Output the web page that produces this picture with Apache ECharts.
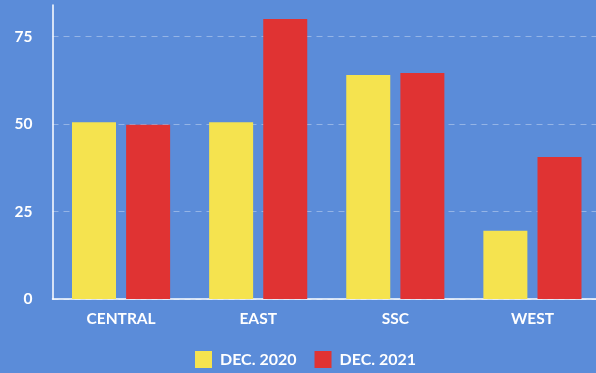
<!DOCTYPE html>
<html>
<head>
<meta charset="utf-8">
<script src="https://cdn.jsdelivr.net/npm/echarts@6/dist/echarts.min.js"></script>
<style>
  html, body { margin: 0; padding: 0; background: #5b8cd9; overflow: hidden; }
  #chart { width: 601px; height: 373px; }
</style>
</head>
<body>
<div id="chart"></div>
<script>
// region data
var categories = ['CENTRAL', 'EAST', 'SSC', 'WEST'];
var seriesNames = ['DEC. 2020', 'DEC. 2021'];
var dec2020 = [50.5, 50.5, 64, 19.5];
var dec2021 = [49.8, 80, 64.6, 40.6];
var yTicks = [0, 25, 50, 75];

var chart = echarts.init(document.getElementById('chart'));
var white = '#ffffff';
var font = 'Lato, "Open Sans", sans-serif';

// plot runs a few px past the right edge of the 596px window, like the reference
chart.setOption({
  backgroundColor: '#5b8cd9',
  animation: false,
  textStyle: { fontFamily: font },
  grid: { left: 52.5, right: 0, top: 5, bottom: 74 },
  legend: {
    bottom: 0,
    left: 190,
    itemWidth: 17,
    itemHeight: 17,
    itemGap: 18,
    icon: 'rect',
    textStyle: { color: white, fontSize: 16, fontWeight: 'bold', fontFamily: font, padding: [0, 0, 0, 3] },
    data: seriesNames
  },
  xAxis: {
    type: 'category',
    data: categories,
    axisLine: { lineStyle: { color: white, width: 1.5 } },
    axisTick: { show: false },
    axisLabel: { color: white, fontSize: 15.5, fontWeight: 'bold', margin: 12 }
  },
  yAxis: {
    type: 'value',
    min: 0,
    max: 84,
    interval: 25,
    axisLine: { show: true, lineStyle: { color: white, width: 1.5 } },
    axisTick: { show: false },
    axisLabel: {
      color: white, fontSize: 15.5, fontWeight: 'bold', margin: 20,
      showMaxLabel: false,
      formatter: function (v) { return yTicks.indexOf(v) >= 0 ? String(v) : ''; }
    },
    splitLine: {
      showMaxLine: false,
      lineStyle: { color: 'rgba(255,255,255,0.35)', type: [6, 5], width: 1 }
    }
  },
  series: [
    {
      name: seriesNames[0],
      type: 'bar',
      data: dec2020,
      barWidth: 44,
      barGap: '23%',
      itemStyle: { color: '#f5e34f' }
    },
    {
      name: seriesNames[1],
      type: 'bar',
      data: dec2021,
      barWidth: 44,
      itemStyle: { color: '#e03333' }
    }
  ]
});
</script>
</body>
</html>
